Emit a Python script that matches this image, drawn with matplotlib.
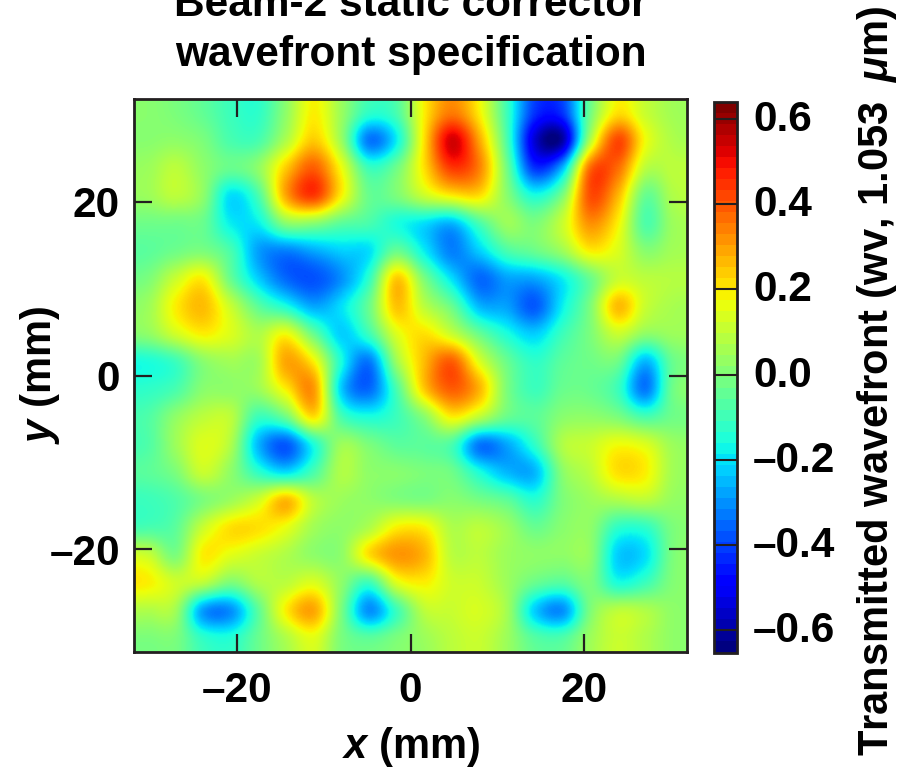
import numpy as np
import matplotlib
matplotlib.use("Agg")
import matplotlib.pyplot as plt
from matplotlib.cm import ScalarMappable
from matplotlib.colors import Normalize
from matplotlib.transforms import ScaledTranslation

plt.rcParams["font.family"] = ["Liberation Sans"]
plt.rcParams["font.weight"] = "bold"
plt.rcParams["mathtext.fontset"] = "custom"
plt.rcParams["mathtext.rm"] = "Liberation Sans:bold"
plt.rcParams["mathtext.it"] = "Liberation Sans:italic:bold"
plt.rcParams["mathtext.bf"] = "Liberation Sans:bold"

# wavefront, top row first (um)
wavefront = [
	[.02,.00,-.04,-.10,-.12,.03,.20,.05,-.12,-.08,.20,.36,.20,-.10,-.42,-.42,-.02,.22,.12,.06],
	[.02,.03,.00,-.08,-.08,.08,.25,.05,-.33,-.18,.22,.55,.30,-.08,-.55,-.60,.08,.43,.18,.08],
	[.05,.10,.03,-.03,.03,.25,.40,.18,-.10,-.02,.22,.45,.35,-.02,-.42,-.25,.38,.38,.10,.10],
	[.05,.10,.03,-.20,-.08,.30,.45,.20,-.03,.00,.12,.20,.22,.02,-.15,.00,.42,.28,-.03,.08],
	[-.02,-.02,-.03,-.18,-.18,.02,.02,-.05,-.08,-.15,-.20,-.25,-.08,.05,.00,.12,.33,.20,-.07,.05],
	[-.05,-.02,.00,-.08,-.28,-.32,-.27,-.22,-.20,-.03,-.18,-.32,-.22,-.08,-.03,.05,.20,.15,.02,.06],
	[.00,.12,.20,-.03,-.22,-.35,-.38,-.30,-.12,.25,.00,-.20,-.35,-.28,-.27,-.18,-.03,.12,.10,.09],
	[.05,.20,.27,.12,-.05,-.15,-.27,-.20,-.03,.26,.10,-.03,-.25,-.28,-.37,-.18,.00,.27,.12,.07],
	[.03,.13,.20,.15,.08,.18,-.03,-.22,-.10,.15,.22,.12,-.03,-.15,-.22,-.10,.00,.12,.03,.05],
	[-.15,-.10,.02,.06,.06,.30,.20,-.15,-.33,.05,.27,.40,.15,-.03,-.12,-.05,-.02,-.02,-.25,-.03],
	[-.12,-.08,.02,.03,.05,.20,.32,-.22,-.35,-.08,.25,.40,.28,.00,-.10,-.03,-.03,-.10,-.33,-.02],
	[-.07,.03,.10,.10,-.10,-.02,.22,-.08,-.15,-.10,.02,.20,.10,-.03,-.05,.02,.03,.00,-.08,-.02],
	[-.07,.05,.15,.08,-.25,-.37,-.15,.05,.00,-.05,-.05,-.08,-.33,-.27,-.12,.08,.12,.18,.15,.05],
	[-.05,.00,.12,.03,-.12,-.20,-.08,.08,.03,.02,.00,-.02,-.15,-.25,-.25,.02,.10,.22,.20,.06],
	[-.10,-.07,.00,.05,.13,.27,.10,.05,.03,.01,.00,.02,-.01,-.05,-.13,.00,.05,.08,.10,.04],
	[-.08,-.05,.12,.22,.22,.17,.06,.03,.08,.20,.20,.08,.10,.05,-.03,.02,.03,-.12,-.12,.00],
	[.12,.00,.20,.16,.12,.08,.03,.03,.22,.32,.28,.10,.10,.05,.03,.03,.03,-.22,-.20,.00],
	[.20,.13,.10,.00,.08,.10,.15,.03,-.10,.15,.20,.13,.12,.05,-.03,-.06,.00,-.15,-.10,.01],
	[.08,.06,-.28,-.30,-.05,.20,.30,.00,-.30,-.10,.10,.12,.14,.06,-.22,-.30,.00,.10,.08,.03],
	[.00,.00,-.12,-.14,-.03,.08,.16,.00,-.05,.00,.05,.10,.12,.05,-.06,-.07,.05,.12,.08,.03],
]
x_limits = [-31.8, 31.8]
y_limits = [-31.8, 31.8]
x_ticks = [-20, 0, 20]
x_labels = ["\u201320", "0", "20"]
y_ticks = [-20, 0, 20]
y_labels = ["\u201320", "0", "20"]
bar_ticks = [-0.6, -0.4, -0.2, 0.0, 0.2, 0.4, 0.6]
bar_labels = ["\u20130.6", "\u20130.4", "\u20130.2", "0.0", "0.2", "0.4", "0.6"]
color_limit = 0.645
bar_limits = [-0.652, 0.640]

W, H = 897, 767
dark = "#231f20"

def px_axes(left, top, right, bottom):
	return fig.add_axes([left / W, 1 - bottom / H, (right - left) / W, (bottom - top) / H])

fig = plt.figure(figsize=(W / 100, H / 100), dpi=100)
norm = Normalize(-color_limit, color_limit)

ax = px_axes(134, 99, 687, 652)
ax.imshow(np.array(wavefront), cmap="jet", norm=norm, extent=x_limits + y_limits,
	origin="upper", interpolation="catrom", aspect="auto")
ax.set_xticks(x_ticks, x_labels)
ax.set_yticks(y_ticks, y_labels)
ax.tick_params(direction="in", length=13, width=1.6, color=dark, labelsize=30.5, top=True, right=True)
ax.tick_params(axis="x", pad=14)
ax.tick_params(axis="y", pad=10)
for s in ax.spines.values():
	s.set_linewidth(2)
	s.set_color(dark)

cax = px_axes(714, 102, 737, 652.5)
cb = fig.colorbar(ScalarMappable(norm=Normalize(*bar_limits), cmap=plt.get_cmap("jet", 50)), cax=cax)
cb.set_ticks(bar_ticks, labels=bar_labels)
cb.ax.tick_params(direction="in", length=16.5, width=1.5, color=dark, labelsize=30.5, pad=11.5)
# labels sit slightly above their ticks
up = ScaledTranslation(0, 3.5 / 100, fig.dpi_scale_trans)
for t in cb.ax.get_yticklabels():
	t.set_horizontalalignment("left")
	t.set_transform(t.get_transform() + up)
cb.outline.set_linewidth(2)
cb.outline.set_edgecolor(dark)

fig.text(411 / W, 1 - 16 / H, "Beam-2 static corrector", ha="center", va="baseline", fontsize=30.5)
fig.text(411 / W, 1 - 66 / H, "wavefront specification", ha="center", va="baseline", fontsize=30.5)
fig.text(411 / W, 1 - 758 / H, "$x$ (mm)", ha="center", va="baseline", fontsize=30)
fig.text(40 / W, 1 - 375 / H, "$y$ (mm)", ha="center", va="center", rotation=90, fontsize=30)
fig.text(888 / W, 1 - 756 / H, "Transmitted wavefront (wv, 1.053\u2009 $\\mu$m)", ha="left", va="baseline",
	rotation=90, rotation_mode="anchor", fontsize=30)

fig.savefig("out.png", dpi=100)
